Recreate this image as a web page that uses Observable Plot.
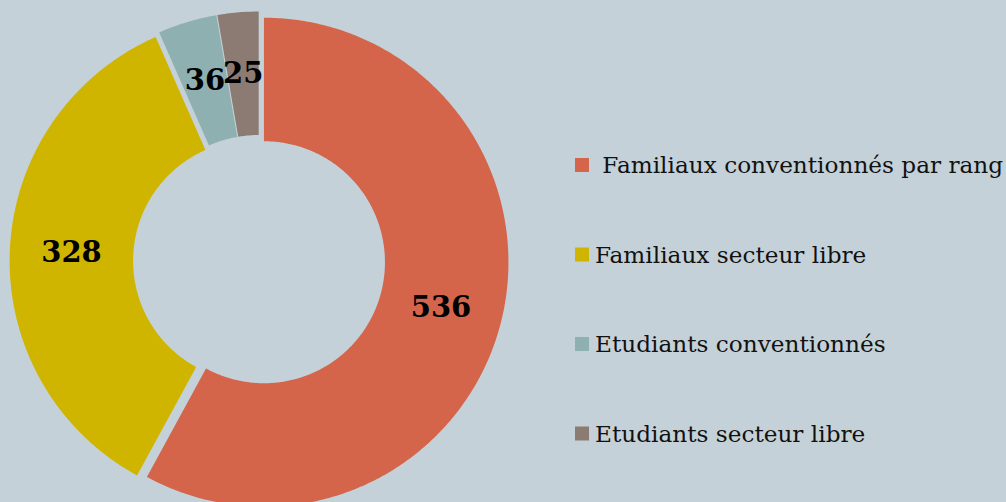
<!DOCTYPE html>
<html>
<head>
<meta charset="utf-8">
<script src="https://cdn.jsdelivr.net/npm/d3@7"></script>
<script src="https://cdn.jsdelivr.net/npm/@observablehq/plot@0.6"></script>
<style>
  html, body { margin: 0; padding: 0; background: #C5D1D8; }
  #wrap { position: relative; width: 1006px; height: 502px; overflow: hidden; }
  #legend { position: absolute; left: 0; top: 0; }
  svg { display: block; }
</style>
</head>
<body>
<div id="wrap"><div id="chart"></div><svg id="legend" width="1006" height="502"></svg></div>
<script>
// ---- data ----
const categories = [" Familiaux conventionnés par rang", "Familiaux secteur libre", "Etudiants conventionnés", "Etudiants secteur libre"];
const values = [536, 328, 36, 25];
const colors = ["#D4654A", "#CFB500", "#8FB0B0", "#8C7B72"];

// ---- layout ----
const W = 1006, H = 502;
const cx = 258.6, cy = 260.5, R = 244.5;
const inner = 121 / R;
const explode = 5 / R;

const pie = d3.pie().sort(null).value(d => d.value)(categories.map((c, i) => ({cat: c, value: values[i]})));

const pts = [];
const labels = [];
for (const s of pie) {
  const a0 = s.startAngle, a1 = s.endAngle, mid = (a0 + a1) / 2;
  const ox = explode * Math.sin(mid), oy = -explode * Math.cos(mid);
  const n = Math.max(4, Math.ceil((a1 - a0) / 0.01));
  for (let k = 0; k <= n; k++) {
    const t = a0 + (a1 - a0) * k / n;
    pts.push({cat: s.data.cat, x: ox + Math.sin(t), y: oy - Math.cos(t)});
  }
  for (let k = n; k >= 0; k--) {
    const t = a0 + (a1 - a0) * k / n;
    pts.push({cat: s.data.cat, x: ox + inner * Math.sin(t), y: oy - inner * Math.cos(t)});
  }
  const rm = (1 + inner) / 2;
  labels.push({cat: s.data.cat, value: s.data.value, x: ox + rm * Math.sin(mid), y: oy - rm * Math.cos(mid)});
}

const chart = Plot.plot({
  width: W, height: H,
  margin: 0,
  style: {background: "transparent"},
  x: {domain: [-cx / R, (W - cx) / R], range: [0, W], axis: null},
  y: {domain: [-cy / R, (H - cy) / R], range: [0, H], axis: null},
  color: {domain: categories, range: colors},
  marks: [
    Plot.line(pts, {x: "x", y: "y", z: "cat", fill: "cat", stroke: null, curve: "linear"}),
    Plot.text(labels, {x: "x", y: "y", text: d => String(d.value), fill: "black",
      fontSize: 29, fontWeight: "bold", fontFamily: "DejaVu Serif, serif"})
  ]
});
document.getElementById("chart").appendChild(chart);

// ---- legend ----
const lg = d3.select("#legend");
const rows = lg.selectAll("g").data(categories).join("g")
  .attr("transform", (d, i) => `translate(575, ${165 + i * 89.5})`);
rows.append("rect").attr("x", 0).attr("y", -7).attr("width", 14).attr("height", 14)
  .attr("fill", (d, i) => colors[i]);
rows.append("text").attr("x", 20).attr("y", 8)
  .style("white-space", "pre").attr("xml:space", "preserve")
  .attr("font-family", "DejaVu Serif, serif").attr("font-size", 23.2).attr("fill", "#111")
  .text(d => d);
</script>
</body>
</html>
